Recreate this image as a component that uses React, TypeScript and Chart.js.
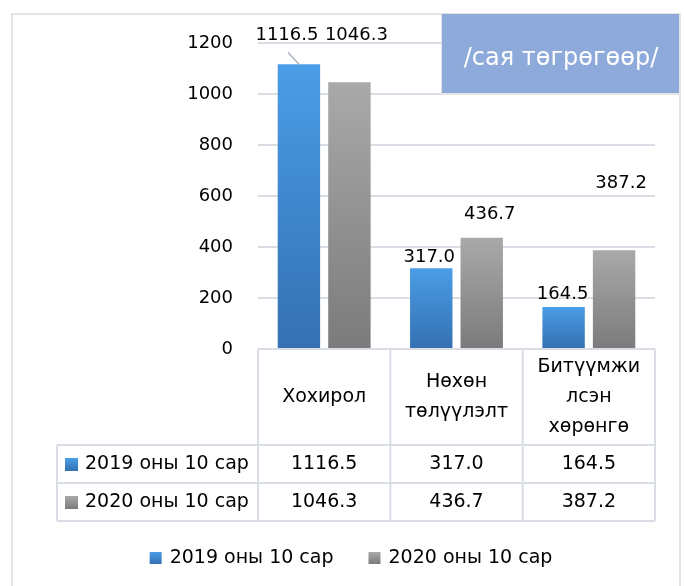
import React, { useEffect, useRef } from "react";
import { Chart, registerables } from "chart.js";

Chart.register(...registerables);

// ---- data ----
const categories: string[][] = [["Хохирол"], ["Нөхөн", "төлүүлэлт"], ["Битүүмжи", "лсэн", "хөрөнгө"]];
const seriesNames: string[] = ["2019 оны 10 сар", "2020 оны 10 сар"];
const values2019: number[] = [1116.5, 317.0, 164.5];
const values2020: number[] = [1046.3, 436.7, 387.2];
const yMin = 0;
const yMax = 1200;
const yStep = 200;
const unitLabel = "/сая төгрөгөөр/";

// ---- styles ----
const FONT = "'DejaVu Sans', 'Liberation Sans', sans-serif";
const TEXT = "#000000";
const LINE = "#d9dee5";
const seriesColors = [
  { light: "#4a9de6", dark: "#3470b2" },
  { light: "#a9a9a9", dark: "#7b7b7b" },
];
// label offsets relative to the top centre of each bar [dx, dy]
const labelOffsets: number[][][] = [
  [[-12, -29], [-2, -11], [-1, -13]],
  [[7, -47], [8, -23], [7, -67]],
];
const leaderLines: boolean[][] = [
  [true, false, false],
  [false, false, false],
];

function fmt(v: number) {
  return v.toFixed(1);
}

function gradientFor(ctx: CanvasRenderingContext2D, top: number, bottom: number, idx: number) {
  const g = ctx.createLinearGradient(0, top, 0, bottom);
  g.addColorStop(0, seriesColors[idx].light);
  g.addColorStop(1, seriesColors[idx].dark);
  return g;
}

const extrasPlugin = {
  id: "extras",
  beforeDraw(chart: any) {
    const ctx: CanvasRenderingContext2D = chart.ctx;
    ctx.save();
    ctx.fillStyle = "#ffffff";
    ctx.fillRect(0, 0, chart.width, chart.height);
    // outer frame
    ctx.strokeStyle = "#e2e6eb";
    ctx.lineWidth = 2;
    ctx.beginPath();
    ctx.moveTo(12, chart.height + 2);
    ctx.lineTo(12, 14);
    ctx.lineTo(680, 14);
    ctx.lineTo(680, chart.height + 2);
    ctx.stroke();
    ctx.restore();
  },
  afterDatasetsDraw(chart: any) {
    const ctx: CanvasRenderingContext2D = chart.ctx;
    const area = chart.chartArea;
    ctx.save();
    // data labels
    ctx.font = `18px ${FONT}`;
    ctx.fillStyle = TEXT;
    ctx.textAlign = "center";
    ctx.textBaseline = "middle";
    chart.data.datasets.forEach((ds: any, di: number) => {
      const meta = chart.getDatasetMeta(di);
      meta.data.forEach((bar: any, i: number) => {
        const [dx, dy] = labelOffsets[di][i];
        const lx = bar.x + dx;
        const ly = bar.y + dy;
        if (leaderLines[di][i]) {
          ctx.strokeStyle = "#a9b6c4";
          ctx.lineWidth = 1.5;
          ctx.beginPath();
          ctx.moveTo(lx + 1, ly + 17);
          ctx.lineTo(bar.x, bar.y);
          ctx.stroke();
        }
        ctx.fillStyle = TEXT;
        ctx.fillText(fmt(ds.data[i]), lx, ly);
      });
    });

    // data table
    const n = categories.length;
    const left = area.left;
    const right = area.right;
    const colW = (right - left) / n;
    const top = area.bottom;
    const headerBottom = top + 96;
    const rowH = 38;
    const tableLeft = 57;
    const tableBottom = headerBottom + rowH * seriesNames.length;
    ctx.strokeStyle = LINE;
    ctx.lineWidth = 2;
    ctx.beginPath();
    ctx.moveTo(left, top);
    ctx.lineTo(right, top);
    for (let c = 0; c <= n; c++) {
      const x = left + c * colW;
      ctx.moveTo(x, top);
      ctx.lineTo(x, tableBottom);
    }
    for (let r = 0; r <= seriesNames.length; r++) {
      const y = headerBottom + r * rowH;
      ctx.moveTo(tableLeft, y);
      ctx.lineTo(right, y);
    }
    ctx.moveTo(tableLeft, headerBottom);
    ctx.lineTo(tableLeft, tableBottom);
    ctx.stroke();

    ctx.fillStyle = TEXT;
    ctx.font = `19px ${FONT}`;
    ctx.textAlign = "center";
    ctx.textBaseline = "middle";
    const lh = 30;
    categories.forEach((lines, c) => {
      const cx = left + (c + 0.5) * colW;
      const cy = (top + headerBottom) / 2;
      lines.forEach((ln, k) => {
        ctx.fillText(ln, cx, cy + (k - (lines.length - 1) / 2) * lh);
      });
    });
    const allValues = [values2019, values2020];
    seriesNames.forEach((name, r) => {
      const cy = headerBottom + (r + 0.5) * rowH;
      ctx.fillStyle = gradientFor(ctx, cy - 6, cy + 7, r);
      ctx.fillRect(65, cy - 6, 13, 13);
      ctx.fillStyle = TEXT;
      ctx.textAlign = "left";
      ctx.fillText(name, 85, cy);
      ctx.textAlign = "center";
      allValues[r].forEach((v, c) => {
        ctx.fillText(fmt(v), left + (c + 0.5) * colW, cy);
      });
    });

    // legend
    const ly = 558;
    ctx.textAlign = "left";
    const widths = seriesNames.map((s) => 12 + 8 + ctx.measureText(s).width);
    const gap = 35;
    const total = widths.reduce((a, b) => a + b, 0) + gap * (widths.length - 1);
    let x = 351 - total / 2;
    seriesNames.forEach((name, i) => {
      ctx.fillStyle = gradientFor(ctx, ly - 6, ly + 6, i);
      ctx.fillRect(x, ly - 6, 12, 12);
      ctx.fillStyle = TEXT;
      ctx.fillText(name, x + 20, ly);
      x += widths[i] + gap;
    });

    // unit box
    ctx.fillStyle = "#e3e3e3";
    ctx.fillRect(441, 13, 240, 82);
    ctx.fillStyle = "#8eaadb";
    ctx.fillRect(442, 14, 237, 79);
    ctx.fillStyle = "#ffffff";
    ctx.font = `24px ${FONT}`;
    ctx.textAlign = "center";
    ctx.textBaseline = "middle";
    ctx.fillText(unitLabel, 561, 59);
    ctx.restore();
  },
};

export default function App() {
  const ref = useRef<HTMLCanvasElement | null>(null);
  useEffect(() => {
    if (!ref.current) return;
    const makeBg = (idx: number) => (c: any) => {
      const chart = c.chart;
      if (!chart.chartArea || c.type !== "data" || !chart.scales.y) return seriesColors[idx].light;
      const ys = chart.scales.y;
      const t = ys.getPixelForValue(c.raw);
      const b = ys.getPixelForValue(0);
      return gradientFor(chart.ctx, t, b, idx);
    };
    const chart = new Chart(ref.current, {
      type: "bar",
      data: {
        labels: categories.map((c) => c.join(" ")),
        datasets: [
          { label: seriesNames[0], data: values2019, backgroundColor: makeBg(0), borderWidth: 0 },
          { label: seriesNames[1], data: values2020, backgroundColor: makeBg(1), borderWidth: 0 },
        ],
      },
      options: {
        animation: false,
        responsive: false,
        layout: { padding: { left: 0, right: 29, top: 43, bottom: 237 } },
        datasets: { bar: { categoryPercentage: 0.763, barPercentage: 0.84 } },
        scales: {
          x: { display: false },
          y: {
            min: yMin,
            max: yMax,
            afterFit: (s: any) => {
              s.width = 258;
            },
            ticks: {
              stepSize: yStep,
              padding: 25,
              color: TEXT,
              font: { family: FONT, size: 18 },
              callback: (v: any) => String(v),
            },
            grid: { color: LINE, lineWidth: 2, drawTicks: false },
            border: { display: false },
          },
        },
        plugins: { legend: { display: false }, tooltip: { enabled: false } },
      },
      plugins: [extrasPlugin],
    } as any);
    return () => chart.destroy();
  }, []);
  return (
    <div style={{ position: "absolute", left: 0, top: 0, width: 684, height: 586 }}>
      <canvas ref={ref} width={684} height={586} />
    </div>
  );
}
